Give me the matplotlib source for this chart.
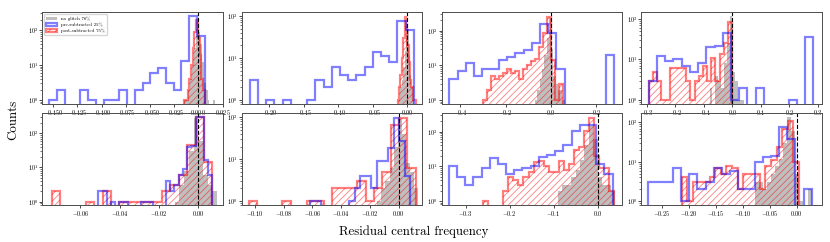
import numpy as np
import matplotlib
matplotlib.use('Agg')
import matplotlib.pyplot as plt
from matplotlib.ticker import MultipleLocator

plt.rcParams['font.family'] = 'cmr10'
plt.rcParams['mathtext.fontset'] = 'cm'
plt.rcParams['axes.formatter.use_mathtext'] = True
plt.rcParams['hatch.linewidth'] = 0.6

# ---- histogram data: (lo, hi) range of the bins and the counts per bin ----
# panel 1
p1_gray_range = (-0.0145, 0.0175)
p1_gray = [1, 1, 2, 4, 10, 30, 70, 90, 40, 12, 3, 2, 1, 0, 0, 1]
p1_blue_range = (-0.154, 0.0066)
p1_blue = [1, 2, 0, 0, 2, 1, 0, 1, 1, 2, 0, 2, 3, 6, 8, 3, 2, 13, 257, 67]
p1_red_range = (-0.0145, 0.0065)
p1_red = [1, 1, 2, 4, 10, 30, 90, 190, 60, 20, 4, 2]

# panel 2
p2_gray_range = (-0.012, 0.010)
p2_gray = [1, 2, 3, 6, 15, 35, 50, 12, 4, 2, 1]
p2_blue_range = (-0.228, 0.0096)
p2_blue = [3, 0, 1, 0, 1, 0, 0, 1, 3, 2, 6, 4, 3, 4, 6, 14, 11, 8, 75, 45]
p2_red_range = (-0.014, 0.012)
p2_red = [1, 2, 4, 10, 30, 95, 60, 20, 8, 3, 2, 1, 1]

# panel 3
p3_gray_range = (-0.07, 0.06)
p3_gray = [1, 2, 4, 8, 20, 60, 230, 30, 5, 3, 2, 2, 1]
p3_blue_range = (-0.448, 0.278)
p3_blue = [4, 7, 12, 5, 8, 8, 14, 17, 22, 28, 45, 155, 87, 8, 0, 0, 0, 0, 0, 20]
p3_red_range = (-0.30, 0.052)
p3_red = [1, 2, 5, 4, 5, 6, 8, 6, 7, 4, 8, 10, 13, 15, 34, 83, 240, 14, 1, 3]

# panel 4
p4_gray_range = (-0.08, 0.05)
p4_gray = [2, 0, 4, 3, 2, 8, 25, 118, 5, 3, 1, 1, 0]
p4_blue_range = (-0.293, 0.283)
p4_blue = [3, 12, 9, 10, 7, 5, 8, 20, 21, 46, 1, 2, 0, 2, 0, 0, 0, 1, 0, 35]
p4_red_range = (-0.293, -0.001)
p4_red = [3, 5, 3, 1, 1, 6, 6, 6, 6, 3, 1, 3, 4, 7, 3, 11, 3, 14, 26, 85]

# panel 5
p5_gray_range = (-0.012, 0.0096)
p5_gray = [1, 3, 8, 30, 280, 60, 6, 3, 2]
p5_blue_range = (-0.0509, 0.0072)
p5_blue = [2, 2, 0, 1, 0, 1, 1, 0, 0, 0, 1, 1, 1, 0, 0, 0, 4, 2, 3, 6, 9, 40, 42,
           290, 290, 17, 6]
p5_red_range = (-0.0745, 0.0072)
p5_red = [2, 0, 0, 0, 1, 0, 2, 0, 1, 1, 1, 1, 1, 2, 3, 6, 46, 300, 14]

# panel 6
p6_gray_range = (-0.015, 0.0135)
p6_gray = [1, 2, 3, 6, 20, 90, 40, 8, 5, 2]
p6_blue_range = (-0.0617, 0.0080)
p6_blue = [1, 1, 0, 0, 0, 0, 0, 1, 2, 4, 4, 2, 9, 9, 18, 98, 27, 4]
p6_red_range = (-0.104, 0.0116)
p6_red = [1, 0, 0, 0, 1, 0, 0, 1, 1, 0, 2, 2, 2, 3, 1, 2, 5, 66, 95, 6]

# panel 7
p7_gray_range = (-0.09, 0.04)
p7_gray = [2, 3, 3, 5, 8, 15, 40, 150, 60, 5, 3, 3, 2]
p7_blue_range = (-0.338, 0.034)
p7_blue = [10, 5, 3, 5, 9, 18, 12, 6, 8, 9, 10, 19, 21, 28, 41, 104, 155, 155, 12, 6]
p7_red_range = (-0.26, 0.038)
p7_red = [1, 0, 0, 0, 2, 5, 4, 3, 5, 7, 13, 14, 10, 7, 7, 14, 8, 12, 30, 36, 104,
          250, 20, 9, 9, 2]

# panel 8
p8_gray_range = (-0.0775, 0.0275)
p8_gray = [3, 3, 2, 3, 5, 8, 12, 30, 140, 60, 5, 1, 0, 2]
p8_blue_range = (-0.2748, 0.0277)
p8_blue = [3, 3, 3, 7, 1, 5, 2, 3, 7, 5, 6, 2, 2, 10, 13, 14, 75, 38, 0, 2]
p8_red_range = (-0.213, 0.004)
p8_red = [4, 1, 3, 3, 3, 4, 7, 5, 8, 7, 2, 5, 5, 5, 2, 8, 11, 24, 68, 108, 10]

labels = ['no glitch 76%', 'pre-subtracted 25%', 'post-subtracted 75%']

# axis limits and tick steps
xlims = [(-0.1617, 0.0252), (-0.2396, 0.022), (-0.483, 0.314), (-0.319, 0.314),
         (-0.0795, 0.0124), (-0.109, 0.0164), (-0.3544, 0.056), (-0.288, 0.0469)]
ylims = [(0.77, 330), (0.8, 124), (0.77, 345), (0.8, 148),
         (0.8, 390), (0.8, 127), (0.77, 345), (0.8, 174)]
xsteps = [0.025, 0.05, 0.2, 0.1, 0.02, 0.02, 0.1, 0.05]

panels = [
    (p1_gray_range, p1_gray, p1_blue_range, p1_blue, p1_red_range, p1_red),
    (p2_gray_range, p2_gray, p2_blue_range, p2_blue, p2_red_range, p2_red),
    (p3_gray_range, p3_gray, p3_blue_range, p3_blue, p3_red_range, p3_red),
    (p4_gray_range, p4_gray, p4_blue_range, p4_blue, p4_red_range, p4_red),
    (p5_gray_range, p5_gray, p5_blue_range, p5_blue, p5_red_range, p5_red),
    (p6_gray_range, p6_gray, p6_blue_range, p6_blue, p6_red_range, p6_red),
    (p7_gray_range, p7_gray, p7_blue_range, p7_blue, p7_red_range, p7_red),
    (p8_gray_range, p8_gray, p8_blue_range, p8_blue, p8_red_range, p8_red),
]


def hist_from_counts(ax, rng, counts, **kw):
    """draw a histogram given bin range and counts"""
    edges = np.linspace(rng[0], rng[1], len(counts) + 1)
    centers = 0.5 * (edges[:-1] + edges[1:])
    return ax.hist(centers, bins=edges, weights=counts, log=True, **kw)


fig, axes = plt.subplots(2, 4, figsize=(8.3, 2.42), dpi=100)
fig.subplots_adjust(left=0.0506, right=0.9904, top=0.9504, bottom=0.1529,
                    wspace=0.1056, hspace=0.098)

for i, ax in enumerate(axes.flat):
    g_rng, g, b_rng, b, r_rng, r = panels[i]
    hist_from_counts(ax, g_rng, g, histtype='stepfilled', color='gray',
                     alpha=0.5, label=labels[0])
    hist_from_counts(ax, b_rng, b, histtype='step', color='blue',
                     alpha=0.5, lw=1.6, label=labels[1])
    hist_from_counts(ax, r_rng, r, histtype='stepfilled', fill=False,
                     edgecolor='red', hatch='/////', alpha=0.5, lw=1.6,
                     label=labels[2])
    ax.axvline(0, color='k', ls='--', lw=0.8)

    ax.set_xlim(*xlims[i])
    ax.set_ylim(*ylims[i])
    ax.xaxis.set_major_locator(MultipleLocator(xsteps[i]))
    ax.tick_params(labelsize=4.5, length=2, width=0.5, pad=0.8)
    ax.tick_params(which='minor', length=1.2, width=0.4)
    ax.patch.set_visible(False)  # keep tick labels of the top row visible
    for sp in ax.spines.values():
        sp.set_linewidth(0.7)
        sp.set_color('0.3')

axes[0, 0].legend(loc='upper left', fontsize=3.5, handlelength=2.2,
                  borderpad=0.4, labelspacing=0.3, framealpha=0.8)

fig.text(0.499, 0.03, 'Residual central frequency', ha='center', fontsize=9.3)
fig.text(0.016, 0.506, 'Counts', rotation=90, ha='center', va='center',
         fontsize=9.3)

plt.savefig('out.png', dpi=100)
